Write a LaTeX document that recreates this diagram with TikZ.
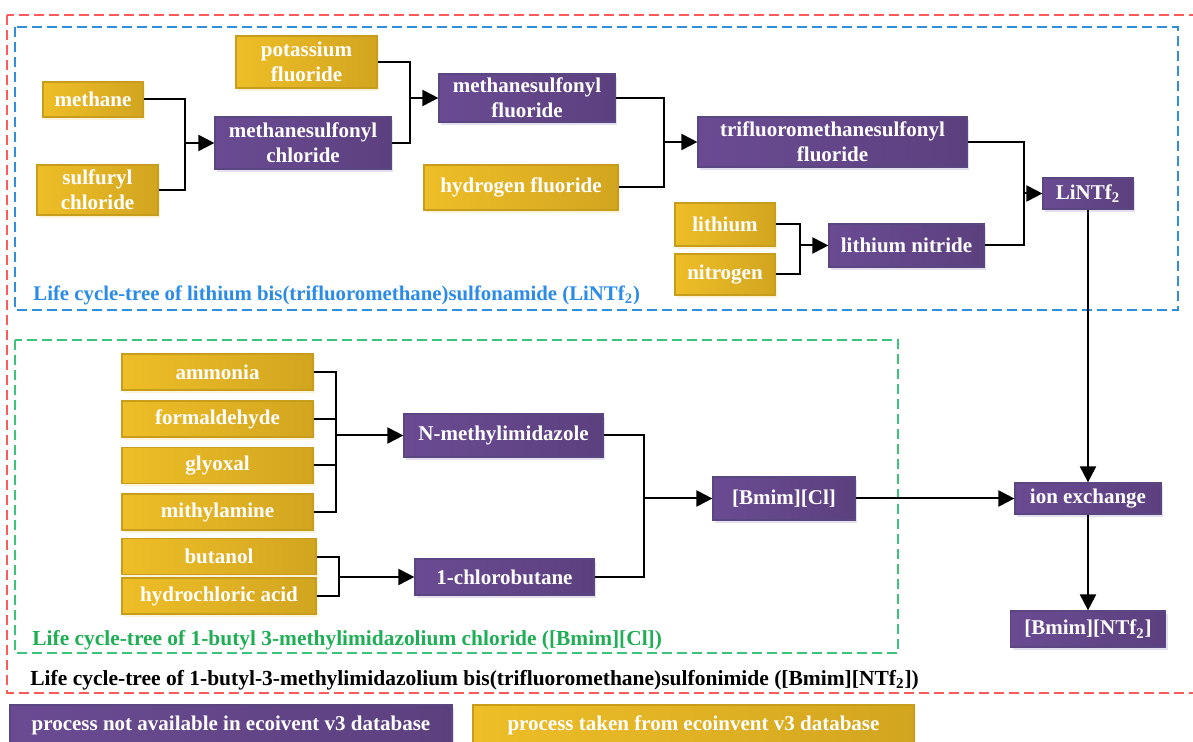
\documentclass[tikz,border=0pt]{standalone}
\usepackage{fontspec}
\setmainfont{Liberation Serif}
\usetikzlibrary{shapes,arrows.meta,positioning,shadows,calc}
\definecolor{procpurple}{HTML}{6A4B93}
\definecolor{procpurpledark}{HTML}{5C407E}
\definecolor{procpurpleline}{HTML}{5A4680}
\definecolor{ecoyellow}{HTML}{EEBE27}
\definecolor{ecoyellowdark}{HTML}{D2A520}
\definecolor{ecoyellowline}{HTML}{C89D1C}
\definecolor{treeblue}{HTML}{2F8FDB}
\definecolor{treebluetext}{HTML}{2B8BE8}
\definecolor{treegreen}{HTML}{3CC47C}
\definecolor{treegreentext}{HTML}{1FAE55}
\definecolor{treered}{HTML}{FF5A5A}

\tikzset{
  box/.style={inner sep=0pt, align=center, text=white, line width=0.6pt,
    font=\bfseries\fontsize{10.5}{12.5}\selectfont},
  sz/.style 2 args={minimum width=0.5pt*#1, minimum height=0.5pt*#2},
  newproc/.style={box, draw=procpurpleline, left color=procpurple, right color=procpurpledark,
    drop shadow={opacity=0.18, fill=procpurple, shadow xshift=1pt, shadow yshift=-1.5pt}},
  ecoproc/.style={box, draw=ecoyellowline, left color=ecoyellow, right color=ecoyellowdark,
    drop shadow={opacity=0.18, fill=ecoyellow, shadow xshift=1pt, shadow yshift=-1.5pt}},
  link/.style={line width=1pt, black},
  arr/.style={link, -{Triangle[length=8pt,width=8pt]}},
  frame/.style={line width=0.75pt, dash pattern=on 5pt off 2.5pt},
  treelabel/.style={anchor=west, inner sep=0pt, font=\bfseries\fontsize{10.7}{12.5}\selectfont}
}

\begin{document}
\begin{tikzpicture}[x=0.5pt, y=-0.5pt]
    \useasboundingbox (0,0) rectangle (1193,742);

    % Frames
    \draw[frame, treered] (7,15) rectangle (1215,693);
    \draw[frame, treeblue] (15,27) rectangle (1178,310);
    \draw[frame, treegreen] (15,340) rectangle (898,653);

    % LiNTf2 tree
    \node[ecoproc, sz={100}{35}] (methane) at (93,99.5) {methane};
    \node[ecoproc, sz={121}{50}] (sulfuryl) at (97.5,190) {sulfuryl\\chloride};
    \node[ecoproc, sz={141}{52}] (kf) at (306.5,62) {potassium\\fluoride};
    \node[newproc, sz={176}{52}] (mscl) at (303,143) {methanesulfonyl\\chloride};
    \node[newproc, sz={176}{48}] (msf) at (527,98) {methanesulfonyl\\fluoride};
    \node[ecoproc, sz={194}{45}] (hf) at (521,187.5) {hydrogen fluoride};
    \node[newproc, sz={269}{50}] (tfsf) at (832.5,142) {trifluoromethanesulfonyl\\fluoride};
    \node[ecoproc, sz={100}{43}] (li) at (725,224.5) {lithium};
    \node[ecoproc, sz={100}{41}] (nitrogen) at (725,274.5) {nitrogen};
    \node[newproc, sz={155}{43}] (linitride) at (906.5,245.5) {lithium nitride};
    \node[newproc, sz={90}{31}] (lintf) at (1088,193.5) {LiNTf\textsubscript{2}};

    \coordinate (j1) at (185,143);
    \coordinate (j2) at (410,98);
    \coordinate (j3) at (664,142);
    \coordinate (j4) at (800,245.5);
    \coordinate (j5) at (1024,193.5);
    \draw[link] (methane.east) -| (j1) |- (sulfuryl.east);
    \draw[arr] (j1) -- (mscl.west);
    \draw[link] (kf.east) -| (j2) |- (mscl.east);
    \draw[arr] (j2) -- (msf.west);
    \draw[link] (msf.east) -| (j3) |- (hf.east);
    \draw[arr] (j3) -- (tfsf.west);
    \draw[link] (li.east) -| (j4) |- (nitrogen.east);
    \draw[arr] (j4) -- (linitride.west);
    \draw[link] (tfsf.east) -| (j5) |- (linitride.east);
    \draw[arr] (j5) -- (lintf.west);

    % [Bmim][Cl] tree
    \node[ecoproc, sz={191}{36}] (ammonia) at (217.5,372) {ammonia};
    \node[ecoproc, sz={191}{36}] (formald) at (217.5,419) {formaldehyde};
    \node[ecoproc, sz={191}{36}] (glyoxal) at (217.5,465.5) {glyoxal};
    \node[ecoproc, sz={191}{36}] (mithyl) at (217.5,512) {mithylamine};
    \node[ecoproc, sz={194}{36}] (butanol) at (219,556.5) {butanol};
    \node[ecoproc, sz={194}{36}] (hcl) at (219,596) {hydrochloric acid};
    \node[newproc, sz={199}{43}] (nmim) at (503.5,435.5) {N-methylimidazole};
    \node[newproc, sz={179}{36}] (clbut) at (504.5,577) {1-chlorobutane};
    \node[newproc, sz={142}{43}] (bmimcl) at (784,498.5) {[Bmim][Cl]};

    \coordinate (j6) at (336,435.5);
    \coordinate (j7) at (339,577);
    \coordinate (j8) at (644,498.5);
    \draw[link] (ammonia.east) -| (j6) |- (mithyl.east);
    \draw[link] (formald.east) -- (formald.east -| j6);
    \draw[link] (glyoxal.east) -- (glyoxal.east -| j6);
    \draw[arr] (j6) -- (nmim.west);
    \draw[link] (butanol.east) -| (j7) |- (hcl.east);
    \draw[arr] (j7) -- (clbut.west);
    \draw[link] (nmim.east) -| (j8) |- (clbut.east);
    \draw[arr] (j8) -- (bmimcl.west);

    % Final product
    \node[newproc, sz={146}{31}] (ionex) at (1088,498.5) {ion exchange};
    \node[newproc, sz={155}{36}] (bmimntf) at (1088,629) {[Bmim][NTf\textsubscript{2}]};
    \draw[arr] (lintf.south) -- (ionex.north);
    \draw[arr] (bmimcl.east) -- (ionex.west);
    \draw[arr] (ionex.south) -- (bmimntf.north);

    % Tree labels
    \node[treelabel, text=treebluetext, font=\bfseries\fontsize{10.4}{12.5}\selectfont] (bluelabel) at (33,295)
      {Life cycle-tree of lithium bis(trifluoromethane)sulfonamide (LiNTf\textsubscript{2})};
    \node[treelabel, text=treegreentext] (greenlabel) at (32,640)
      {Life cycle-tree of 1-butyl 3-methylimidazolium chloride ([Bmim][Cl])};
    \node[treelabel, text=black, font=\bfseries\fontsize{10.75}{12.5}\selectfont] (blacklabel) at (30,680)
      {Life cycle-tree of 1-butyl-3-methylimidazolium bis(trifluoromethane)sulfonimide ([Bmim][NTf\textsubscript{2}])};

    % Legend
    \node[newproc, sz={442}{40}] (legnew) at (231,725) {process not available in ecoivent v3 database};
    \node[ecoproc, sz={441}{40}] (legeco) at (693.5,725) {process taken from ecoinvent v3 database};
\end{tikzpicture}
\end{document}
